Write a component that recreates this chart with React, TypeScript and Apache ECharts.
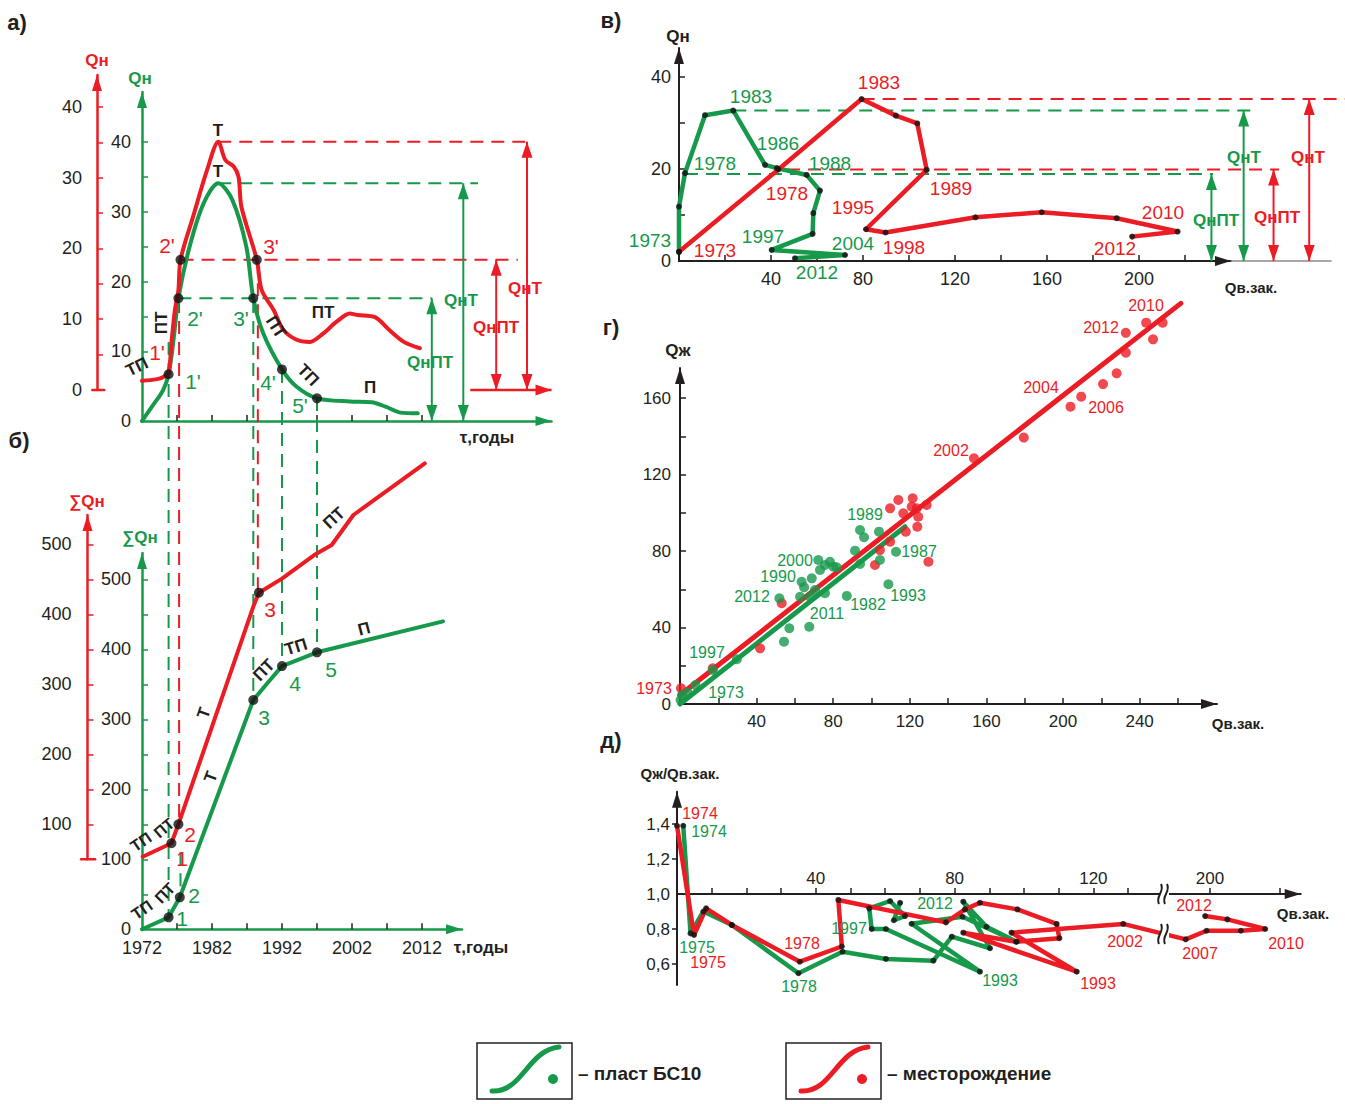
import React, { useEffect, useRef } from "react";
import * as echarts from "echarts";

const G = "#17994b";
const R = "#ec1c24";
const K = "#231f20";
const SANS = "'Liberation Sans', Arial, sans-serif";
const NARROW = "'Liberation Sans Narrow', 'Liberation Sans', Arial, sans-serif";

// ---------- а) annual oil production Qн by year ----------
const aYearsGreen = [1972, 1973.6, 1975, 1975.8, 1976.5, 1977.2, 1978.8, 1980.8, 1982.9, 1984.9, 1986.9, 1987.9, 1989.3, 1992, 1994.1, 1997, 2001.7, 2004.8, 2006.8, 2008.9, 2011.4];
const aQGreen = [0, 2.3, 4.4, 6.7, 11.6, 17.6, 25.0, 31.2, 34.1, 31.7, 25.0, 17.6, 12.6, 7.4, 4.9, 3.25, 2.8, 2.7, 2.05, 1.2, 1.1];
const aYearsRed = [1972, 1974, 1975, 1975.8, 1976.2, 1976.7, 1977.2, 1977.5, 1979.3, 1981.3, 1982.9, 1983.9, 1985.1, 1985.8, 1986.2, 1988.4, 1989.1, 1990.8, 1992.2, 1994.1, 1996, 1997.9, 1999.8, 2001.7, 2002.8, 2005.3, 2007.3, 2009.4, 2011.7];
const aQRed = [1.3, 1.5, 1.8, 2.6, 6.6, 11.3, 14.1, 18.4, 24.5, 31.1, 35.1, 32.5, 31.6, 30.1, 25.9, 18.4, 14.1, 11.3, 8.5, 7.1, 6.8, 8.0, 9.65, 10.8, 10.6, 10.3, 8.5, 6.8, 5.9];
const aDotsGreen = [[1975.8, 6.7], [1977.2, 17.6], [1987.9, 17.6], [1992, 7.4], [1997, 3.25]];
const aDotsRed = [[1977.5, 18.4], [1988.4, 18.4]];
const aPeakGreen = 34.1, aPeakRed = 35.1, aPTGreen = 17.6, aPTRed = 18.4;

// ---------- б) cumulative ΣQн by year ----------
const bYearsRed = [1972.1, 1976.2, 1977.2, 1987.9, 1988.7, 1992, 1996.6, 1999.1, 2002.2, 2012.4];
const bSumRed = [53.7, 72.9, 100, 411, 430.9, 451, 484.7, 499, 541.9, 615.7];
const bYearsGreen = [1972, 1975.8, 1977.4, 1987.9, 1989.9, 1992, 1997, 2015];
const bSumGreen = [0, 17.1, 45.7, 327.6, 351.4, 376, 395.7, 439.9];
const bDotsRed = [[1976.2, 72.9], [1977.2, 100], [1988.7, 430.9]];
const bDotsGreen = [[1975.8, 17.1], [1977.4, 45.7], [1987.9, 327.6], [1992, 376], [1997, 395.7]];

// ---------- в) Qн vs Qв.зак. ----------
const cGreenW = [0, 0, 2.6, 11.3, 23.6, 37.4, 42.6, 55.5, 61.3, 58.4, 58.1, 40.3, 72.2, 50.4];
const cGreenQ = [2.0, 11.8, 19.1, 31.7, 32.7, 20.9, 20.2, 18.7, 15.3, 10.4, 5.9, 2.4, 1.3, 0.6];
const cRedW = [0, 43.2, 79.4, 94.3, 103.6, 107.7, 81.3, 89.8, 128.9, 157.7, 190.3, 216.8, 197];
const cRedQ = [2.0, 19.9, 35.2, 31.6, 29.9, 19.8, 6.9, 6.2, 9.5, 10.6, 9.3, 6.4, 5.3];
const cTGreen = 32.7, cPTGreen = 18.9, cTRed = 35.2, cPTRed = 19.9;

// ---------- г) Qж vs Qв.зак. ----------
const dRedW = [0.5, 17.1, 41.8, 53.1, 101.8, 104.4, 109.7, 114, 109.7, 116.6, 117.9, 121, 121.5, 123.6, 124.4, 123.9, 128.8, 129.7, 153.5, 179.5, 203.9, 209.5, 220.9, 228, 232.8, 232.8, 243.4, 247, 252];
const dRedQ = [8.2, 18.7, 29.1, 52.7, 72.7, 80.5, 102.3, 106.7, 84.9, 99.7, 90.1, 103.2, 107.6, 102.3, 97.9, 92.7, 104.1, 74.4, 128.5, 139.3, 155.5, 160.7, 167.3, 172.9, 183.7, 194.1, 199.4, 190.7, 199.4];
const dGreenW = [0.3, 1.1, 4, 8.1, 17.1, 29.7, 54.3, 57.1, 67.5, 51.9, 62.7, 63.5, 64.8, 67.9, 68.8, 70.5, 72.2, 73.1, 75.7, 75.7, 78.3, 80.1, 81.8, 87.1, 91.4, 94, 94, 96.1, 103.9, 104.4, 108.8, 112.8];
const dGreenQ = [2.1, 4.7, 6, 9.9, 17.8, 23.4, 32.6, 39.6, 40.4, 55.3, 56.1, 63.9, 61, 56.1, 65.7, 59.6, 75.3, 70.1, 72.7, 57.9, 74.4, 71.8, 71.5, 56.5, 80.2, 91, 73.2, 87.2, 90.1, 75.3, 62.6, 79.6];
const dFitRed = [[0, 4.7], [261.5, 209.5]];
const dFitGreen = [[0, 0], [117.5, 92.7]];

// ---------- д) Qж/Qв.зак. vs Qв.зак. ----------
const eRedW = [0, 4.9, 8.4, 15.8, 35.4, 47.5, 46.5, 77.5, 83, 87.3, 98.1, 109.4, 110.2, 97.7, 82.5, 115.2, 96.4, 128.6, 193, 199, 208.9, 215.9, 205, 198.6];
const eRedK = [1.39, 0.766, 0.918, 0.823, 0.613, 0.70, 0.966, 0.838, 0.912, 0.95, 0.912, 0.829, 0.747, 0.727, 0.779, 0.556, 0.779, 0.829, 0.741, 0.79, 0.79, 0.80, 0.855, 0.874];
const eGreenW = [1.8, 3.9, 7.6, 15.8, 35, 47.7, 60.2, 73.9, 79.2, 90.2, 82.5, 89.2, 97.9, 82.3, 67.6, 87.3, 60.2, 56.1, 55.4, 61.4, 65.7, 62.5, 64.3];
const eGreenK = [1.39, 0.775, 0.90, 0.823, 0.547, 0.67, 0.629, 0.619, 0.756, 0.69, 0.956, 0.813, 0.727, 0.87, 0.83, 0.556, 0.80, 0.80, 0.918, 0.96, 0.874, 0.85, 0.95];
const BREAK_FROM = 150;  // values beyond the axis break
const BREAK_SHIFT = 46.4; // width of the cut-out part of the axis

const zip = (xs: number[], ys: number[]) => xs.map((x, i) => [x, ys[i]]);
const brk = (v: number) => (v >= BREAK_FROM ? v - BREAK_SHIFT : v);
const brkLabel = (v: number) => (v > 140 ? String(Math.round(v + BREAK_SHIFT)) : String(v));

function buildOption() {
  const series: any[] = [];
  const L = (gi: number, data: any[], color: string, width: number, extra: any = {}) =>
    series.push({
      type: "line", xAxisIndex: gi, yAxisIndex: gi, data, symbol: "none", showSymbol: false, clip: false, silent: true,
      lineStyle: { color, width, cap: "round", join: "round" }, z: 3, ...extra,
    });
  const Dash = (gi: number, data: any[], color: string) =>
    series.push({
      type: "line", xAxisIndex: gi, yAxisIndex: gi, data, symbol: "none", showSymbol: false, clip: false, silent: true,
      lineStyle: { color, width: 2, type: [13, 8] }, z: 2,
    });
  const Dots = (gi: number, data: any[], color: string, size: number) =>
    series.push({
      type: "scatter", xAxisIndex: gi, yAxisIndex: gi, data, symbol: "circle", symbolSize: size, clip: false, silent: true,
      itemStyle: { color }, z: 6,
    });
  const head = (p: number[], rot: number, off: number[]) => ({
    value: p, symbol: "triangle", symbolSize: [11, 16], symbolRotate: rot, symbolOffset: off,
  });
  const VArrow = (gi: number, x: number, yTop: number, yBot: number, color: string) =>
    series.push({
      type: "line", xAxisIndex: gi, yAxisIndex: gi, showSymbol: true, clip: false, silent: true,
      data: [head([x, yTop], 0, [0, 8]), head([x, yBot], 180, [0, -8])],
      lineStyle: { color, width: 2 }, itemStyle: { color }, z: 4,
    });

  // ---- а)
  L(0, zip(aYearsGreen, aQGreen), G, 4, { smooth: 0.3 });
  L(1, zip(aYearsRed, aQRed), R, 4, { smooth: 0.3 });
  Dash(1, [[1982.9, aPeakRed], [2027.7, aPeakRed]], R);
  Dash(0, [[1982.9, aPeakGreen], [2020, aPeakGreen]], G);
  Dash(1, [[1977.5, aPTRed], [2025.7, aPTRed]], R);
  Dash(0, [[1977.2, aPTGreen], [2013.4, aPTGreen]], G);
  VArrow(0, 2013.4, aPTGreen, 0, G);
  VArrow(0, 2017.9, aPeakGreen, 0, G);
  VArrow(1, 2022.6, aPTRed, 0, R);
  VArrow(1, 2027, aPeakRed, 0, R);
  series.push({
    type: "line", xAxisIndex: 1, yAxisIndex: 1, showSymbol: true, clip: false, silent: true,
    data: [{ value: [2018.9, 0], symbol: "none" }, head([2030.5, 0], -90, [-8, 0])],
    lineStyle: { color: R, width: 2.5 }, itemStyle: { color: R }, z: 4,
  });
  L(1, [[1964.9, 0], [1966.6, 0]], R, 2.5);
  Dots(0, aDotsGreen, "#111", 10);
  Dots(1, aDotsRed, "#111", 10);

  // ---- б)
  L(2, zip(bYearsGreen, bSumGreen), G, 4);
  L(3, zip(bYearsRed, bSumRed), R, 4);
  L(3, [[1963.3, 50], [1965.3, 50]], R, 2.5);
  // guide lines dropped from the points of а) to б)
  Dash(2, [[1975.8, 839], [1975.8, 17.1]], G);
  Dash(3, [[1977.3, 849], [1977.3, 100]], R);
  Dash(2, [[1977.5, 110], [1977.5, 45.7]], G);
  Dash(2, [[1987.9, 899], [1987.9, 327.6]], G);
  Dash(3, [[1988.55, 903], [1988.55, 430.9]], R);
  Dash(2, [[1992, 799], [1992, 376]], G);
  Dash(2, [[1997, 759], [1997, 395.7]], G);
  Dots(2, bDotsGreen, "#111", 10);
  Dots(3, bDotsRed, "#111", 10);

  // ---- в)
  L(4, [[240, 0], [283.5, 0]], "#8a8a8a", 1.5);
  Dash(4, [[79.4, cTRed], [289.5, cTRed]], R);
  Dash(4, [[23.6, cTGreen], [248.7, cTGreen]], G);
  Dash(4, [[47, cPTRed], [260.9, cPTRed]], R);
  Dash(4, [[2.6, cPTGreen], [232.2, cPTGreen]], G);
  L(4, zip(cGreenW, cGreenQ), G, 4.5);
  L(4, zip(cRedW, cRedQ), R, 4.5);
  Dots(4, zip(cGreenW, cGreenQ), "#111", 6);
  Dots(4, zip(cRedW, cRedQ), "#111", 6);
  VArrow(4, 231.5, cPTGreen, 0, G);
  VArrow(4, 245.5, cTGreen, 0, G);
  VArrow(4, 258.5, cPTRed, 0, R);
  VArrow(4, 274, cTRed, 0, R);

  // ---- г)
  L(5, dFitRed, R, 5);
  L(5, dFitGreen, G, 5);
  Dots(5, zip(dRedW, dRedQ), R, 10);
  Dots(5, zip(dGreenW, dGreenQ), G, 10);

  // ---- д)
  L(6, zip(eGreenW.map(brk), eGreenK), G, 4.5);
  L(6, zip(eRedW.map(brk), eRedK), R, 4.5);
  Dots(6, zip(eGreenW.map(brk), eGreenK), "#111", 6);
  Dots(6, zip(eRedW.map(brk), eRedK), "#111", 6);

  const axLine = (color: string, width = 2.5, arrow = true) => ({
    show: true, onZero: false, lineStyle: { color, width },
    symbol: arrow ? ["none", "triangle"] : "none", symbolSize: [10, 16], symbolOffset: [0, -8],
  });
  const tk = (color: string, vals: number[], inside = true, length = 6) => ({
    show: true, inside, length, lineStyle: { color, width: 1.5 }, customValues: vals,
  });
  const plain = (v: number) => String(v);
  const lab = (vals: number[], size: number, extra: any = {}) => ({
    show: true, customValues: vals, color: K, fontSize: size, fontFamily: SANS, formatter: plain, ...extra,
  });
  const hidden = (gi: number, min: number, max: number) => ({ type: "value", gridIndex: gi, min, max, show: false });
  const noSplit = { splitLine: { show: false } };
  const years5 = [1977, 1982, 1987, 1992, 1997, 2002, 2007, 2012];
  const comma = (v: number) => v.toFixed(1).replace(".", ",");

  const grid = [
    { left: 142, top: 92, width: 409.5, height: 329 },      // 0 а) green
    { left: 90, top: 75, width: 461.5, height: 315 },       // 1 а) red
    { left: 142, top: 553, width: 320, height: 376.3 },     // 2 б) green
    { left: 80, top: 515, width: 382, height: 344.3 },      // 3 б) red
    { left: 679, top: 48, width: 666, height: 213 },        // 4 в) data
    { left: 680, top: 368, width: 537, height: 336 },       // 5 г)
    { left: 677, top: 791.7, width: 623.7, height: 193.3 }, // 6 д) data
    { left: 677, top: 791.7, width: 623.7, height: 102.3 }, // 7 д) x axis on the 1,0 line
    { left: 679, top: 48, width: 552, height: 213 },        // 8 в) x axis
  ].map((g) => ({ ...g, containLabel: false, outerBoundsMode: "none" }));

  const xAxis = [
    { type: "value", gridIndex: 0, min: 1972, max: 2030.5, axisLine: axLine(G), axisTick: tk(K, years5), axisLabel: { show: false }, ...noSplit },
    hidden(1, 1964.571, 2030.5),
    { type: "value", gridIndex: 2, min: 1972, max: 2017.714, axisLine: axLine(G), axisTick: tk(K, years5), axisLabel: lab([1972, 1982, 1992, 2002, 2012], 18, { margin: 10 }), ...noSplit },
    hidden(3, 1963.143, 2017.714),
    hidden(4, 0, 289.565),
    { type: "value", gridIndex: 5, min: 0, max: 280.4, axisLine: axLine(K, 2), axisTick: tk(K, [20, 40, 60, 80, 100, 120, 140, 160, 180, 200, 220, 240, 260]), axisLabel: lab([40, 80, 120, 160, 200, 240], 17, { margin: 9 }), ...noSplit },
    hidden(6, 0, 179.74),
    { type: "value", gridIndex: 7, min: 0, max: 179.74, axisLine: axLine(K, 2), axisTick: tk(K, [10, 20, 30, 40, 50, 60, 70, 80, 90, 100, 110, 120, 130, 140, 153.6, 173.6]), axisLabel: lab([40, 80, 120, 153.6], 17, { inside: true, margin: 7, formatter: brkLabel }), ...noSplit },
    { type: "value", gridIndex: 8, min: 0, max: 240, axisLine: axLine(K, 2), axisTick: tk(K, [20, 40, 60, 80, 100, 120, 140, 160, 180, 200, 220]), axisLabel: lab([40, 80, 120, 160, 200], 18, { margin: 9 }), ...noSplit },
  ];
  const yAxis = [
    { type: "value", gridIndex: 0, min: 0, max: 47.17, axisLine: axLine(G), axisTick: tk(G, [10, 15, 20, 25, 30, 35, 40]), axisLabel: lab([0, 10, 20, 30, 40], 18, { margin: 11 }), ...noSplit },
    { type: "value", gridIndex: 1, min: 0, max: 44.52, offset: -7, axisLine: axLine(R), axisTick: tk(R, [5, 10, 15, 20, 25, 30, 35, 40]), axisLabel: lab([0, 10, 20, 30, 40], 18, { margin: 15 }), ...noSplit },
    { type: "value", gridIndex: 2, min: 0, max: 537.57, axisLine: axLine(G), axisTick: tk(G, [50, 100, 150, 200, 250, 300, 350, 400, 450, 500]), axisLabel: lab([0, 100, 200, 300, 400, 500], 18, { margin: 11 }), ...noSplit },
    { type: "value", gridIndex: 3, min: 50, max: 541.9, offset: -7.5, axisLine: axLine(R), axisTick: tk(R, [100, 150, 200, 250, 300, 350, 400, 450, 500]), axisLabel: lab([100, 200, 300, 400, 500], 18, { margin: 16 }), ...noSplit },
    { type: "value", gridIndex: 4, min: 0, max: 46.3, axisLine: axLine(K, 2), axisTick: tk(K, [10, 20, 30, 40]), axisLabel: lab([0, 20, 40], 18, { margin: 8 }), ...noSplit },
    { type: "value", gridIndex: 5, min: 0, max: 175.7, axisLine: axLine(K, 2), axisTick: tk(K, [20, 40, 60, 80, 100, 120, 140, 160]), axisLabel: lab([0, 40, 80, 120, 160], 17, { margin: 9 }), ...noSplit },
    { type: "value", gridIndex: 6, min: 0.48, max: 1.5846, axisLine: axLine(K, 2), axisTick: tk(K, [0.6, 0.8, 1.2, 1.4], false, 5), axisLabel: lab([0.6, 0.8, 1.0, 1.2, 1.4], 17, { margin: 7, formatter: comma }), ...noSplit },
    hidden(7, 0, 1),
    hidden(8, 0, 46.3),
  ];

  const T = (x: number, y: number, text: string, fill: string, size = 18, o: any = {}) => ({
    type: "text", x, y, rotation: o.rot || 0, z: 100, silent: true,
    style: {
      text, fill, fontSize: size, fontFamily: o.ff || (o.bold ? SANS : NARROW),
      fontWeight: o.bold ? "bold" : "normal", align: o.align || "center", verticalAlign: "middle",
    },
  });
  const B = { bold: true };
  const graphic: any[] = [
    // panel letters
    T(17, 22, "а)", K, 22, B), T(19, 440, "б)", K, 22, B), T(611, 20, "в)", K, 22, B),
    T(611, 327, "г)", K, 22, B), T(611, 740, "д)", K, 22, B),
    // а)
    T(97, 60, "Qн", R, 17, B), T(140, 78, "Qн", G, 17, B), T(487, 437, "τ,годы", K, 17, B),
    T(218, 130, "Т", K, 17, B), T(218, 171, "Т", K, 17, B),
    T(167, 245, "2'", R, 21), T(271, 246, "3'", R, 21), T(157, 352, "1'", R, 21),
    T(195, 318, "2'", G, 21), T(241, 318, "3'", G, 21), T(193, 381, "1'", G, 21),
    T(268, 382, "4'", G, 21), T(300, 405, "5'", G, 21),
    T(161, 323, "ПТ", K, 17, { bold: true, rot: Math.PI / 2 }),
    T(137, 367, "ТП", K, 17, { bold: true, rot: 0.45 }),
    T(276, 327, "ПТ", K, 17, { bold: true, rot: -1.0 }),
    T(308, 375, "ТП", K, 17, { bold: true, rot: -0.8 }),
    T(323, 312, "ПТ", K, 17, B), T(370, 387, "П", K, 17, B),
    T(461, 300, "QнТ", G, 17, B), T(430, 362, "QнПТ", G, 17, B),
    T(525, 288, "QнТ", R, 17, B), T(496, 327, "QнПТ", R, 17, B),
    // б)
    T(87, 501, "∑Qн", R, 17, B), T(140, 537, "∑Qн", G, 17, B), T(481, 947, "τ,годы", K, 17, B),
    T(270, 609, "3", R, 21), T(190, 834, "2", R, 21), T(182, 858, "1", R, 21),
    T(264, 717, "3", G, 21), T(295, 683, "4", G, 21), T(331, 669, "5", G, 21),
    T(194, 895, "2", G, 21), T(182, 918, "1", G, 21),
    T(204, 713, "Т", K, 17, { bold: true, rot: 1.24 }), T(211, 777, "Т", K, 17, { bold: true, rot: 1.21 }),
    T(264, 670, "ПТ", K, 17, { bold: true, rot: 0.8 }), T(296, 647, "ТП", K, 17, { bold: true, rot: 0.3 }),
    T(364, 629, "П", K, 17, { bold: true, rot: 0.25 }), T(334, 518, "ПТ", K, 17, { bold: true, rot: 0.75 }),
    T(141, 842, "ТП", K, 16, { bold: true, rot: 0.6 }), T(164, 828, "ПТ", K, 16, { bold: true, rot: 0.7 }),
    T(142, 910, "ТП", K, 16, { bold: true, rot: 0.6 }), T(165, 893, "ПТ", K, 16, { bold: true, rot: 0.8 }),
    // в)
    T(678, 36, "Qн", K, 17, B), T(1251, 287, "Qв.зак.", K, 15, B),
    T(751, 96, "1983", G, 19), T(778, 143, "1986", G, 19), T(715, 163, "1978", G, 19), T(830, 163, "1988", G, 19),
    T(650, 240, "1973", G, 19), T(763, 236, "1997", G, 19), T(853, 243, "2004", G, 19), T(817, 272, "2012", G, 19),
    T(879, 82, "1983", R, 19), T(787, 193, "1978", R, 19), T(951, 188, "1989", R, 19), T(853, 207, "1995", R, 19),
    T(904, 247, "1998", R, 19), T(1163, 212, "2010", R, 19), T(1115, 248, "2012", R, 19), T(715, 250, "1973", R, 19),
    T(1244, 157, "QнТ", G, 17, B), T(1216, 220, "QнПТ", G, 17, B),
    T(1308, 157, "QнТ", R, 17, B), T(1277, 217, "QнПТ", R, 17, B),
    // г)
    T(678, 350, "Qж", K, 17, B), T(1238, 723, "Qв.зак.", K, 15, B),
    T(1146, 305, "2010", R, 16), T(1101, 327, "2012", R, 16), T(1041, 387, "2004", R, 16),
    T(1106, 407, "2006", R, 16), T(951, 450, "2002", R, 16), T(654, 688, "1973", R, 16),
    T(865, 514, "1989", G, 16), T(919, 551, "1987", G, 16), T(795, 560, "2000", G, 16),
    T(778, 576, "1990", G, 16), T(752, 596, "2012", G, 16), T(827, 613, "2011", G, 16),
    T(868, 604, "1982", G, 16), T(908, 595, "1993", G, 16), T(707, 652, "1997", G, 16), T(726, 692, "1973", G, 16),
    // д)
    T(680, 773, "Qж/Qв.зак.", K, 15, B), T(1303, 913, "Qв.зак.", K, 15, B),
    T(700, 813, "1974", R, 16), T(709, 831, "1974", G, 16), T(697, 947, "1975", G, 16), T(708, 962, "1975", R, 16),
    T(802, 943, "1978", R, 16), T(799, 986, "1978", G, 16), T(849, 928, "1997", G, 16), T(935, 903, "2012", G, 16),
    T(1000, 980, "1993", G, 16), T(1098, 983, "1993", R, 16), T(1125, 941, "2002", R, 16),
    T(1194, 905, "2012", R, 16), T(1200, 953, "2007", R, 16), T(1286, 943, "2010", R, 16),
  ];
  // axis break marks in д)
  for (const yc of [894, 934]) {
    graphic.push({ type: "rect", z: 100, silent: true, shape: { x: 1160, y: yc - 7, width: 9, height: 14 }, style: { fill: "#fff" } });
    for (const dx of [0, 6]) {
      graphic.push({
        type: "bezierCurve", z: 101, silent: true,
        shape: { x1: 1159 + dx, y1: yc + 10, cpx1: 1155 + dx, cpy1: yc + 2, cpx2: 1165 + dx, cpy2: yc - 2, x2: 1161 + dx, y2: yc - 10 },
        style: { stroke: K, lineWidth: 2, fill: "none" },
      });
    }
  }
  // legend
  const legendBox = (x0: number, color: string, text: string) => {
    graphic.push({ type: "rect", z: 100, silent: true, shape: { x: x0, y: 1043, width: 95, height: 56 }, style: { fill: "#fff", stroke: K, lineWidth: 1.5 } });
    graphic.push({
      type: "bezierCurve", z: 101, silent: true,
      shape: { x1: x0 + 15, y1: 1091, cpx1: x0 + 45, cpy1: 1093, cpx2: x0 + 51, cpy2: 1050, x2: x0 + 82, y2: 1047 },
      style: { stroke: color, lineWidth: 5, fill: "none", lineCap: "round" },
    });
    graphic.push({ type: "circle", z: 101, silent: true, shape: { cx: x0 + 76, cy: 1079, r: 5 }, style: { fill: color } });
    graphic.push(T(x0 + 101, 1073, text, K, 19, { bold: true, align: "left" }));
  };
  legendBox(477, G, "– пласт БС10");
  legendBox(786, R, "– месторождение");

  return { animation: false, backgroundColor: "#fff", grid, xAxis, yAxis, series, graphic };
}

export default function App() {
  const ref = useRef<HTMLDivElement>(null);
  useEffect(() => {
    const chart = echarts.init(ref.current as HTMLDivElement, null, { renderer: "svg" });
    chart.setOption(buildOption() as any);
    return () => chart.dispose();
  }, []);
  return <div ref={ref} style={{ position: "absolute", left: 0, top: 0, width: 1345, height: 1104, background: "#fff" }} />;
}
